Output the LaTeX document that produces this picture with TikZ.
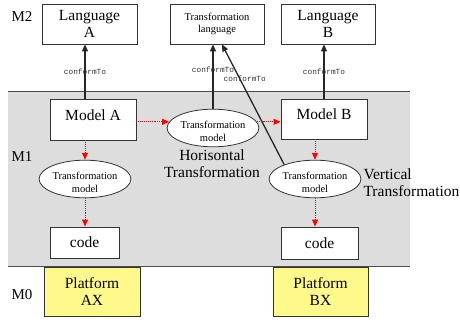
\documentclass[tikz,border=0pt]{standalone}
\usepackage{fontspec}
\setmainfont{Liberation Serif}
\newfontfamily\monofont{Liberation Mono}
\usetikzlibrary{shapes.geometric,arrows.meta}

\tikzset{
  box/.style={draw=black!80, line width=0.8pt, fill=white, align=center,
    font=\fontsize{15.5}{17}\selectfont},
  smallbox/.style={box, font=\fontsize{10.5}{12}\selectfont},
  platbox/.style={box, fill=yellow!45, minimum width=95pt, minimum height=49pt},
  ell/.style={ellipse, draw=black!80, line width=0.8pt, fill=white, inner sep=0pt,
    minimum width=86pt, minimum height=32pt, align=center,
    font=\fontsize{10.5}{12.5}\selectfont},
  conf/.style={black!85, line width=1.3pt, -{Triangle[length=7pt,width=6pt]}},
  trans/.style={red, densely dotted, line width=0.9pt, -{Triangle[length=7pt,width=6pt]}},
  conflbl/.style={font=\monofont\fontsize{7.8}{9}\selectfont, text=black!80},
  level/.style={font=\fontsize{15}{17}\selectfont},
  note/.style={font=\fontsize{15.5}{17}\selectfont}
}

\begin{document}
\begin{tikzpicture}[x=1pt,y=-1pt]
\useasboundingbox (0,0) rectangle (460,320);

% M1 band
\fill[gray!27] (8,92) rectangle (410,266);
\draw[black!70, line width=1pt] (8,92) -- (410,92);
\draw[black!70, line width=1pt] (8,266) -- (410,266);

\node[level] (mtwo) at (22,17) {M2};
\node[level] (mone) at (22,157) {M1};
\node[level] (mzero) at (22,295) {M0};

% M2
\node[box, minimum width=95pt, minimum height=40pt] (langA) at (89.5,24) {Language\\A};
\node[smallbox, minimum width=94pt, minimum height=40pt] (tlang) at (217,24) {Transformation\\language};
\node[box, minimum width=94pt, minimum height=40pt] (langB) at (328,24) {Language\\B};

% M1
\node[box, minimum width=86pt, minimum height=41pt, text height=11pt, text depth=9pt] (modelA) at (93,119.5) {Model A};
\node[box, minimum width=86pt, minimum height=40pt, text height=11pt, text depth=9pt] (modelB) at (324,119) {Model B};
\node[ell, minimum width=88pt] (ellH) at (213,128) {\rule{0pt}{14pt}Transformation\\model};
\node[ell] (ellA) at (85,179) {\rule{0pt}{14pt}Transformation\\model};
\node[ell] (ellB) at (315,179) {\rule{0pt}{14pt}Transformation\\model};
\node[box, minimum width=69pt, minimum height=31pt] (codeA) at (84.5,242.5) {code};
\node[box, minimum width=77pt, minimum height=32pt] (codeB) at (319.5,243) {code};

\node[note, align=center] (htrans) at (212,164) {Horisontal\\Transformation};
\node[note, align=left, anchor=west] (vtrans) at (360,183) {Vertical\\Transformation};

% M0
\node[platbox, minimum width=96pt] (platA) at (92,291.5) {Platform\\AX};
\node[platbox] (platB) at (320.5,291.5) {Platform\\BX};

% conformTo
\draw[conf] (modelA.north -| ellA) -- (langA.south -| ellA) node[conflbl, pos=0.5] {conformTo};
\draw[conf] (ellH.north) -- (tlang.south -| ellH) node[conflbl, pos=0.6] {conformTo};
\draw[conf] (ellB.155) -- ([xshift=5pt]tlang.south) node[conflbl, pos=0.715, xshift=5pt] {conformTo};
\draw[conf] (modelB.north) -- (langB.south -| modelB) node[conflbl, pos=0.5] {conformTo};

% transformations
\draw[trans] (modelA.east |- ellH.172) -- (ellH.172);
\draw[trans] (ellH.8) -- (ellH.8 -| modelB.west);
\draw[trans] (modelA.south -| ellA) -- (ellA.north);
\draw[trans] (ellA.south) -- (codeA.north -| ellA);
\draw[trans] (modelB.south -| ellB) -- (ellB.north);
\draw[trans] (ellB.south) -- (codeB.north -| ellB);

\end{tikzpicture}
\end{document}
